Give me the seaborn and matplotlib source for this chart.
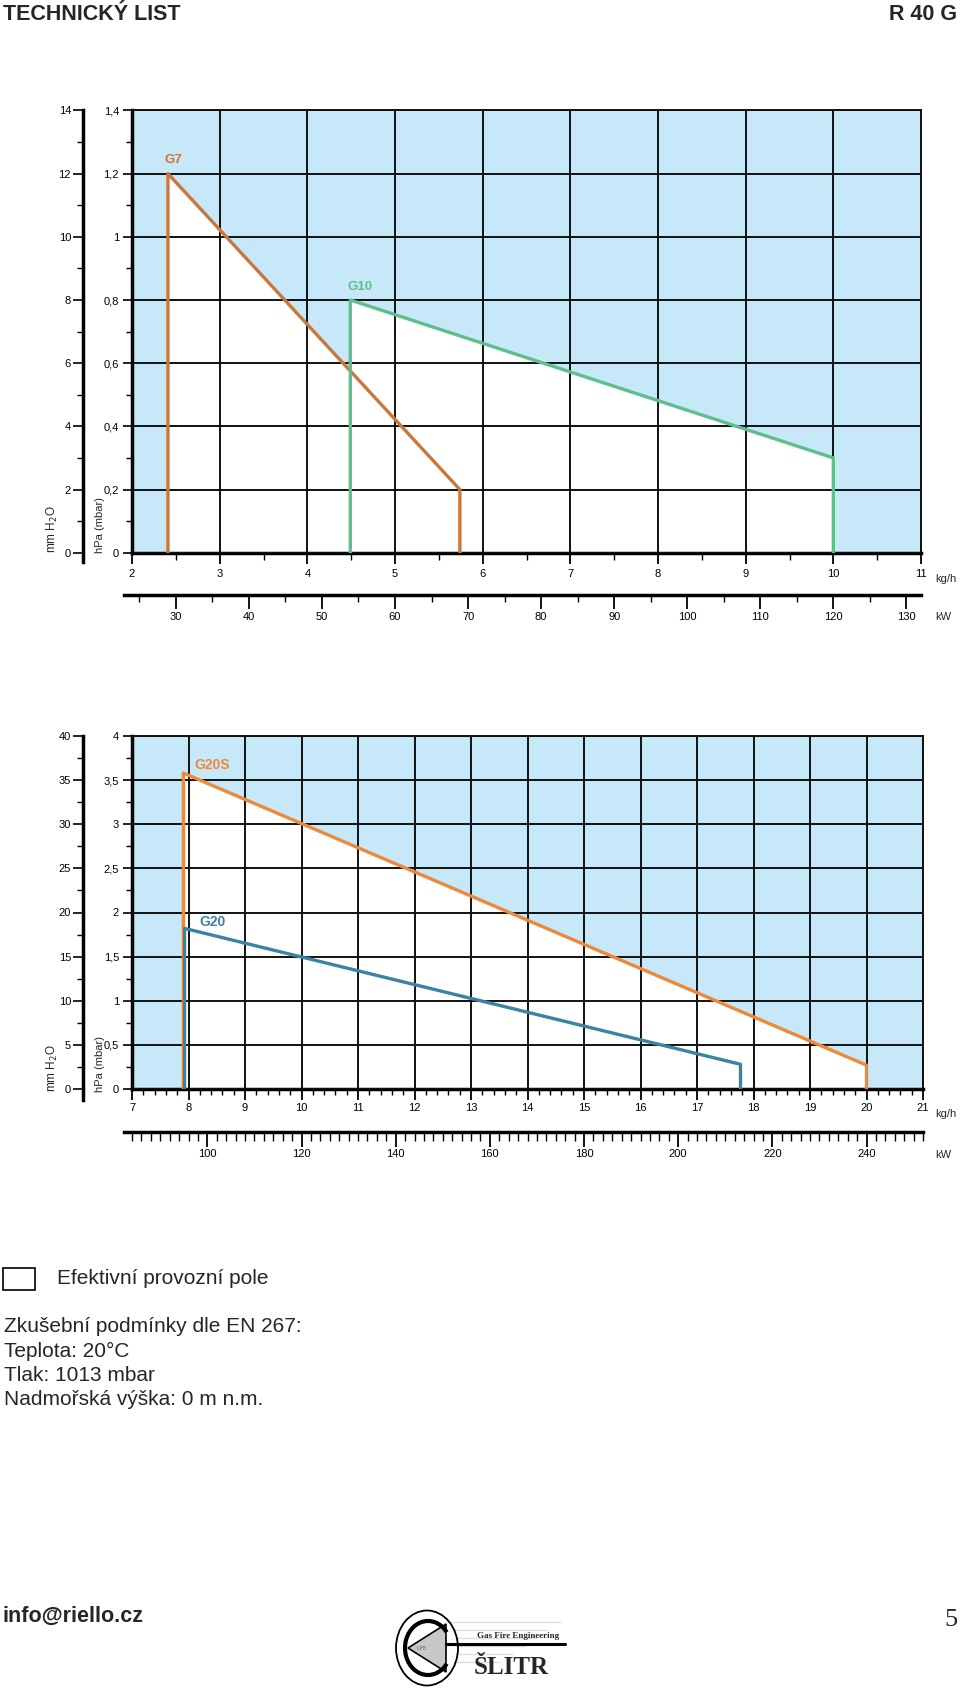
# R 40 G - technical sheet page with the two working-field diagrams
import matplotlib
matplotlib.use("Agg")
import matplotlib.pyplot as plt
import seaborn as sns
from matplotlib.ticker import MultipleLocator
from matplotlib.patches import Rectangle, Ellipse, Arc, Polygon

# ===============================
# Data
# ===============================
# top diagram
top_kgh_ticks = [2, 3, 4, 5, 6, 7, 8, 9, 10, 11]
top_hpa_ticks = [0, 0.2, 0.4, 0.6, 0.8, 1.0, 1.2, 1.4]
top_hpa_labels = ["0", "0,2", "0,4", "0,6", "0,8", "1", "1,2", "1,4"]
top_mm_ticks = [0, 2, 4, 6, 8, 10, 12, 14]
top_kw_ticks = [30, 40, 50, 60, 70, 80, 90, 100, 110, 120, 130]

g7_kgh = [2.41, 2.41, 5.74, 5.74]
g7_hpa = [0, 1.2, 0.2, 0]
g10_kgh = [4.49, 4.49, 10.0, 10.0]
g10_hpa = [0, 0.8, 0.3, 0]

# bottom diagram
bot_kgh_ticks = [7, 8, 9, 10, 11, 12, 13, 14, 15, 16, 17, 18, 19, 20, 21]
bot_hpa_ticks = [0, 0.5, 1.0, 1.5, 2.0, 2.5, 3.0, 3.5, 4.0]
bot_hpa_labels = ["0", "0,5", "1", "1,5", "2", "2,5", "3", "3,5", "4"]
bot_mm_ticks = [0, 5, 10, 15, 20, 25, 30, 35, 40]
bot_kw_ticks = [100, 120, 140, 160, 180, 200, 220, 240]

g20s_kgh = [7.91, 7.91, 20.0, 20.0]
g20s_hpa = [0, 3.58, 0.27, 0]
g20_kgh = [7.93, 7.93, 17.77, 17.77]
g20_hpa = [0, 1.82, 0.28, 0]

KW_PER_KGH = 12
MM_PER_HPA = 10

note_lines = [
    "Zkušební podmínky dle EN 267:",
    "Teplota: 20°C",
    "Tlak: 1013 mbar",
    "Nadmořská výška: 0 m n.m.",
]

# ===============================
# Style
# ===============================
sns.set_theme(style="ticks")
plt.rcParams["font.family"] = ["Liberation Sans", "DejaVu Sans"]
plt.rcParams["axes.edgecolor"] = "black"
plt.rcParams["xtick.color"] = "black"
plt.rcParams["ytick.color"] = "black"

BLUE = "#c6e8f8"
GRID = "#111111"
C_G7 = "#c8783c"
C_G10 = "#5fbf8c"
C_G20S = "#ef8838"
C_G20 = "#3a84a2"
TICK_FS = 8

W, H = 960, 1693
fig = plt.figure(figsize=(W / 100, H / 100), dpi=100)
fig.patch.set_facecolor("white")


def px_axes(left, top, right, bottom):
    return fig.add_axes([left / W, 1 - bottom / H, (right - left) / W, (bottom - top) / H])


def pt(px):
    return px * 0.72


def draw_chart(box, kgh_ticks, kgh_minor, hpa_ticks, hpa_labels, hpa_minor,
               mm_ticks, mm_minor, kw_ticks, kw_minor, kw_y, mm_bottom,
               curves, tick_len, kw_len, label_y, unit_ys):
    left, top, right, bottom = box
    ax = px_axes(left, top, right, bottom)
    ax.set_facecolor(BLUE)
    for kgh, hpa, color, name, off, fs in curves:
        ax.fill(kgh, hpa, color="white", lw=0, zorder=1)
    for kgh, hpa, color, name, off, fs in curves:
        sns.lineplot(x=kgh, y=hpa, sort=False, estimator=None, color=color,
                     lw=2.4, ax=ax, zorder=4)
        ax.annotate(name, xy=(kgh[1], hpa[1]), xytext=off, textcoords="offset pixels",
                    color=color, fontsize=fs, fontweight="bold", ha="left",
                    va="center", zorder=5)
    ax.set_xlim(kgh_ticks[0], kgh_ticks[-1])
    ax.set_ylim(hpa_ticks[0], hpa_ticks[-1])
    ax.set_xticks(kgh_ticks, [str(v) for v in kgh_ticks])
    ax.set_yticks(hpa_ticks, hpa_labels)
    ax.xaxis.set_minor_locator(MultipleLocator(kgh_minor))
    ax.yaxis.set_minor_locator(MultipleLocator(hpa_minor))
    ax.set_xlabel("")
    ax.set_ylabel("")
    ax.set_axisbelow(False)
    ax.grid(True, which="major", color=GRID, lw=1.4)
    for s in ["top", "right"]:
        ax.spines[s].set_linewidth(1.4)
        ax.spines[s].set_color(GRID)
    for s in ["left", "bottom"]:
        ax.spines[s].set_linewidth(2.5)
    ax.tick_params(axis="y", which="major", length=pt(9), width=1.2,
                   labelsize=TICK_FS, pad=pt(4))
    ax.tick_params(axis="y", which="minor", length=pt(6), width=1.0)
    ax.tick_params(axis="x", which="major", length=pt(tick_len[0]), width=1.3,
                   labelsize=TICK_FS, pad=pt(tick_len[2]))
    ax.tick_params(axis="x", which="minor", length=pt(tick_len[1]), width=1.0)

    # mm H2O scale on the far left
    mm_x = 83
    ax_mm = px_axes(mm_x, top, mm_x + 1, mm_bottom)
    mm_top = hpa_ticks[-1] * MM_PER_HPA
    ax_mm.set_ylim(-(mm_bottom - bottom) * mm_top / (bottom - top), mm_top)
    ax_mm.set_yticks(mm_ticks, [str(v) for v in mm_ticks])
    ax_mm.yaxis.set_minor_locator(MultipleLocator(mm_minor))
    ax_mm.set_xticks([])
    ax_mm.patch.set_visible(False)
    for s in ["top", "right", "bottom"]:
        ax_mm.spines[s].set_visible(False)
    ax_mm.spines["left"].set_linewidth(2.5)
    ax_mm.tick_params(axis="y", which="major", length=pt(10), width=1.2,
                      labelsize=TICK_FS, pad=pt(2))
    ax_mm.tick_params(axis="y", which="minor", length=pt(6), width=1.0)

    # kW scale under the kg/h scale
    kw_left = 124
    kgh_per_px = (kgh_ticks[-1] - kgh_ticks[0]) / (right - left)
    ax_kw = px_axes(kw_left, kw_y - 1, right, kw_y)
    ax_kw.set_xlim((kgh_ticks[0] + (kw_left - left) * kgh_per_px) * KW_PER_KGH,
                   kgh_ticks[-1] * KW_PER_KGH)
    ax_kw.set_xticks(kw_ticks, [str(v) for v in kw_ticks])
    ax_kw.xaxis.set_minor_locator(MultipleLocator(kw_minor))
    ax_kw.set_yticks([])
    ax_kw.patch.set_visible(False)
    for s in ["top", "right", "left"]:
        ax_kw.spines[s].set_visible(False)
    ax_kw.spines["bottom"].set_linewidth(2.5)
    ax_kw.tick_params(axis="x", which="major", length=pt(kw_len[0]), width=1.3,
                      labelsize=TICK_FS, pad=pt(kw_len[2]))
    ax_kw.tick_params(axis="x", which="minor", length=pt(kw_len[1]), width=1.0)

    # unit labels
    fig.text(935 / W, 1 - unit_ys[0] / H, "kg/h", fontsize=TICK_FS, ha="left", va="center")
    fig.text(935 / W, 1 - unit_ys[1] / H, "kW", fontsize=TICK_FS, ha="left", va="center")
    fig.text(52 / W, 1 - label_y[0] / H, "mm H$_2$O", fontsize=8.5, rotation=90,
             ha="center", va="bottom")
    fig.text(100 / W, 1 - label_y[1] / H, "hPa (mbar)", fontsize=8, rotation=90,
             ha="center", va="bottom")
    return ax


# ===============================
# Top diagram
# ===============================
draw_chart(
    box=(132, 110.5, 921, 552.7),
    kgh_ticks=top_kgh_ticks, kgh_minor=0.5,
    hpa_ticks=top_hpa_ticks, hpa_labels=top_hpa_labels, hpa_minor=0.1,
    mm_ticks=top_mm_ticks, mm_minor=1,
    kw_ticks=top_kw_ticks, kw_minor=5, kw_y=595, mm_bottom=562.5,
    curves=[(g7_kgh, g7_hpa, C_G7, "G7", (-3, 14), 9.5),
            (g10_kgh, g10_hpa, C_G10, "G10", (-3, 13), 9.5)],
    tick_len=(11, 7, 5), kw_len=(14, 7, 3),
    label_y=(553, 553), unit_ys=(579, 617),
)

# ===============================
# Bottom diagram
# ===============================
draw_chart(
    box=(132, 736, 923, 1089),
    kgh_ticks=bot_kgh_ticks, kgh_minor=0.2,
    hpa_ticks=bot_hpa_ticks, hpa_labels=bot_hpa_labels, hpa_minor=0.25,
    mm_ticks=bot_mm_ticks, mm_minor=2.5,
    kw_ticks=bot_kw_ticks, kw_minor=2, kw_y=1132, mm_bottom=1100,
    curves=[(g20s_kgh, g20s_hpa, C_G20S, "G20S", (11, 8), 10),
            (g20_kgh, g20_hpa, C_G20, "G20", (15, 6), 10)],
    tick_len=(11, 6, 3), kw_len=(15, 9, 2),
    label_y=(1092, 1092), unit_ys=(1114, 1155),
)

# ===============================
# Header, legend, notes, footer
# ===============================
fig.text(3 / W, 1 - 14 / H, "TECHNICKÝ LIST", fontsize=15.5, fontweight="bold",
         ha="left", va="center")
fig.text(957 / W, 1 - 14 / H, "R 40 G", fontsize=15.5, fontweight="bold",
         ha="right", va="center")

deco = fig.add_axes([0, 0, 1, 1])
deco.set_xlim(0, W)
deco.set_ylim(H, 0)
deco.axis("off")
deco.patch.set_visible(False)

deco.add_patch(Rectangle((3, 1268), 32, 22, fill=False, ec="black", lw=1.2))
deco.text(57, 1278, "Efektivní provozní pole", fontsize=15, ha="left", va="center")
for i, line in enumerate(note_lines):
    deco.text(4, 1327 + i * 24.3, line, fontsize=15, ha="left", va="center")

deco.text(3, 1616, "info@riello.cz", fontsize=15.5, fontweight="bold", ha="left", va="center")
deco.text(958, 1620, "5", fontsize=19, family="Liberation Serif", ha="right", va="center")

# logo
for k in range(6):
    deco.plot([440, 560 - k * 12], [1622 + k * 8, 1622 + k * 8], color="#dddddd", lw=1, zorder=1)
deco.add_patch(Ellipse((427, 1648), 62, 75, fill=False, ec="black", lw=1.3, zorder=3))
deco.add_patch(Ellipse((427, 1648), 58, 71, fc="white", ec="none", zorder=2))
deco.add_patch(Arc((428, 1648), 46, 54, theta1=40, theta2=320, ec="black", lw=3, zorder=4))
deco.add_patch(Polygon([(408, 1648), (446, 1624), (446, 1672)], closed=True,
                       fc="#c8c8c8", ec="black", lw=1.2, zorder=3))
deco.plot([446, 565], [1644, 1644], color="black", lw=2.2, zorder=4)
deco.text(422, 1648, "GFE", fontsize=4, family="Liberation Serif", ha="center",
          va="center", color="#555555", zorder=5)
deco.text(477, 1636, "Gas Fire Engineering", fontsize=6.5, family="Liberation Serif",
          fontweight="bold", ha="left", va="center")
deco.text(474, 1667, "ŠLITR", fontsize=18, family="Liberation Serif",
          fontweight="bold", ha="left", va="center")

fig.savefig("out.png", dpi=100, facecolor="white")
